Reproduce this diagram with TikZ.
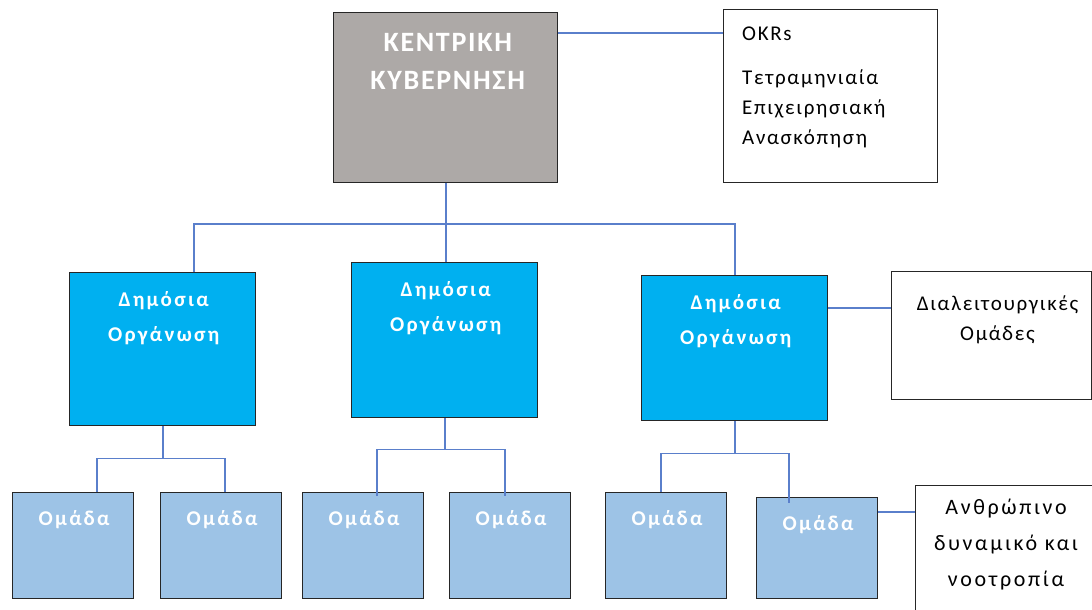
\documentclass[tikz,border=0pt]{standalone}
\usepackage{fontspec}
\setmainfont{Carlito}
\usetikzlibrary{calc}
\definecolor{gfill}{HTML}{ADA9A7}
\definecolor{bfill}{HTML}{00B0F0}
\definecolor{lbfill}{HTML}{9DC3E6}
\definecolor{lcol}{HTML}{5A7FCB}
\definecolor{bord}{HTML}{262626}
\begin{document}
\begin{tikzpicture}[x=1pt,y=-1pt,
  box/.style={draw=bord, line width=1.4pt, anchor=north west, inner sep=0pt},
  gov/.style={box, fill=gfill},
  org/.style={box, fill=bfill, minimum width=186pt},
  team/.style={box, fill=lbfill, minimum width=121pt},
  note/.style={draw=black!85, line width=1pt, fill=white, anchor=north west, inner sep=0pt},
  conn/.style={draw=lcol, line width=1.6pt},
  wtxt/.style={text=white, align=center, anchor=north, inner sep=0pt},
  btxt/.style={text=black, inner sep=0pt},
  govfont/.style={font=\fontsize{28}{38}\selectfont\bfseries\addfontfeatures{LetterSpace=6}},
  orgfont/.style={font=\fontsize{21}{35}\selectfont\bfseries\addfontfeatures{LetterSpace=11}},
  teamfont/.style={font=\fontsize{21}{28}\selectfont\bfseries\addfontfeatures{LetterSpace=11}},
  notefont/.style={font=\fontsize{21}{30}\selectfont\addfontfeatures{LetterSpace=8}},
  humfont/.style={font=\fontsize{22}{36}\selectfont\addfontfeatures{LetterSpace=12}}]
\useasboundingbox (0,0) rectangle (1092,610);
\clip (0,0) rectangle (1092,610);
% boxes
\node[gov, minimum width=224pt, minimum height=170pt] (gov) at (333,12) {};
\node[note, minimum width=214pt, minimum height=173pt] (okr) at (723,9) {};
\node[org, minimum height=153pt] (d1) at (69,272) {};
\node[org, minimum height=155pt] (d2) at (351,262) {};
\node[org, minimum height=145pt] (d3) at (641,275) {};
\node[note, minimum width=200pt, minimum height=128pt] (cross) at (891,271) {};
\node[team, minimum height=106pt] (o1) at (12,492) {};
\node[team, minimum height=106pt] (o2) at (160,492) {};
\node[team, minimum height=106pt] (o3) at (302,492) {};
\node[team, minimum height=106pt] (o4) at (449,492) {};
\node[team, minimum height=106pt] (o5) at (605,492) {};
\node[team, minimum height=101pt] (o6) at (756,497) {};
\node[note, minimum width=177pt, minimum height=135pt] (hum) at (915,485) {};
% texts
\node[wtxt, govfont] (govt) at ([xshift=2pt,yshift=-21pt]gov.north) {ΚΕΝΤΡΙΚΗ\\ΚΥΒΕΡΝΗΣΗ};
\node[btxt, notefont, anchor=north west, align=left] (okrt) at ([xshift=19pt,yshift=-18pt]okr.north west) {OKRs\\[14pt]Τετραμηνιαία\\Επιχειρησιακή\\Ανασκόπηση};
\node[wtxt, orgfont] (d1t) at ([xshift=1pt,yshift=-19pt]d1.north) {Δημόσια\\Οργάνωση};
\node[wtxt, orgfont] (d2t) at ([xshift=1pt,yshift=-19pt]d2.north) {Δημόσια\\Οργάνωση};
\node[wtxt, orgfont] (d3t) at ([xshift=1pt,yshift=-19pt]d3.north) {Δημόσια\\Οργάνωση};
\node[btxt, notefont, align=center, anchor=north] (crosst) at ([xshift=6pt,yshift=-25pt]cross.north) {Διαλειτουργικές\\Ομάδες};
\foreach \o in {o1,o2,o3,o4,o5,o6}{
  \node[wtxt, teamfont] (\o t) at ([xshift=1pt,yshift=-18pt]\o.north) {Ομάδα};
}
\node[btxt, humfont, align=center, anchor=north] (humt) at ([xshift=2pt,yshift=-14pt]hum.north) {Ανθρώπινο\\δυναμικό και\\νοοτροπία};
% connectors
\draw[conn] ([yshift=-21pt]gov.north east) -- ([yshift=-21pt]gov.north east -| okr.west);
\draw[conn] (gov.south) -- (gov.south |- d2.north);
\draw[conn] ([xshift=31pt]d1.north) |- (gov.south |- 0,224) -| (d3.north);
\draw[conn] ([yshift=-33pt]d3.north east) -- ([yshift=-33pt]d3.north east -| cross.west);
\draw[conn] (d1.south) -- ++(0,32) coordinate (j1);
\draw[conn] ([xshift=24pt]o1.north) |- (j1) -| ([xshift=4pt]o2.north);
\draw[conn] (d2.south) -- ++(0,31) coordinate (j2);
\draw[conn] ([xshift=14pt,yshift=-4pt]o3.north) |- (j2) -| ([xshift=-5pt,yshift=-4pt]o4.north);
\draw[conn] (d3.south) -- ++(0,32) coordinate (j3);
\draw[conn] ([xshift=-5pt]o5.north) |- (j3) -| ([xshift=-28pt,yshift=-6pt]o6.north);
\draw[conn] ([yshift=-15pt]o6.north east) -- ([yshift=-15pt]o6.north east -| hum.west);
\end{tikzpicture}
\end{document}
